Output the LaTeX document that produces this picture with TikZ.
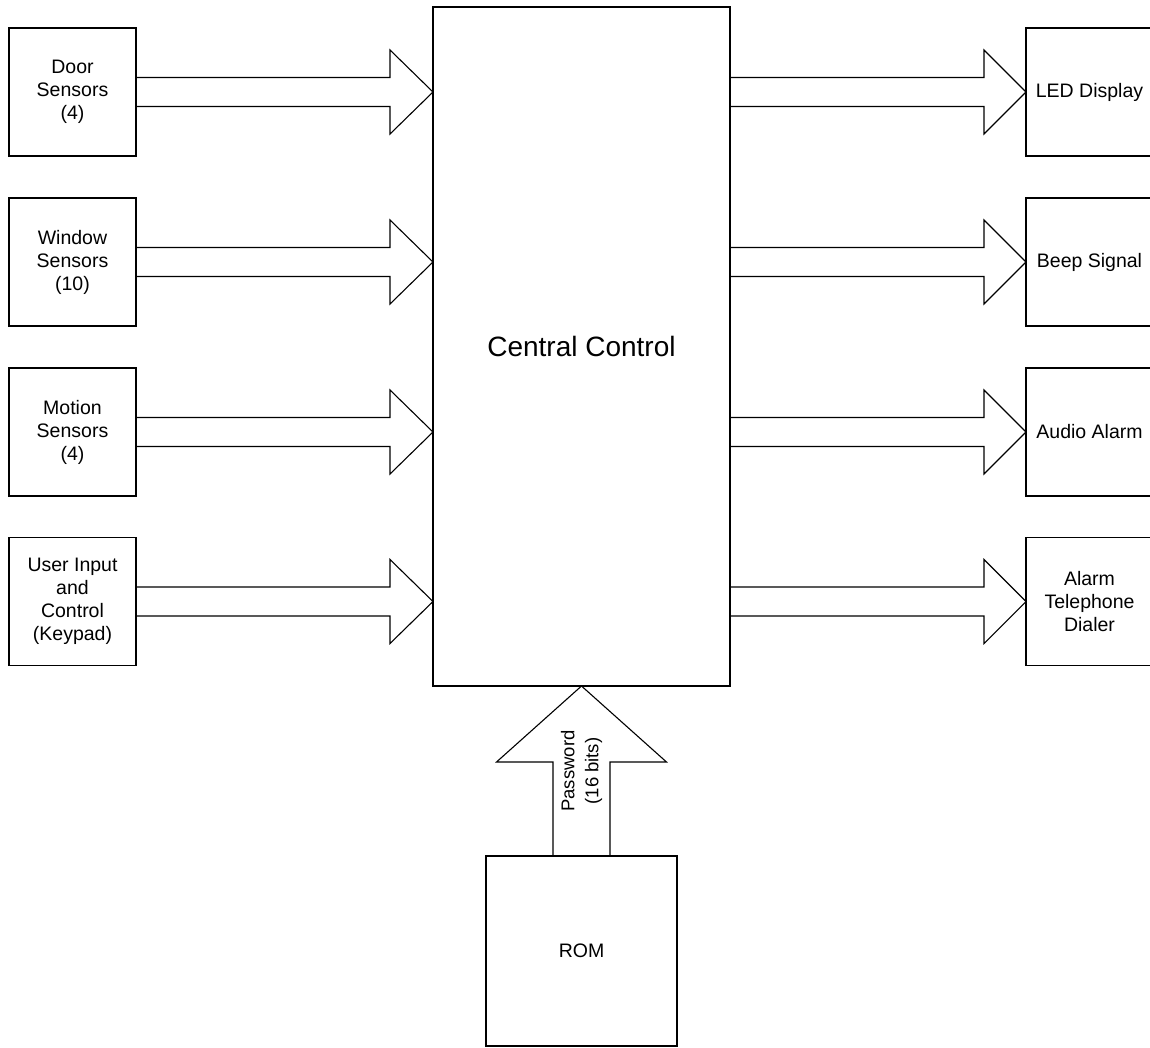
\documentclass[tikz,border=0pt]{standalone}
\usepackage{fontspec}
\setmainfont{Liberation Sans}
\usetikzlibrary{calc}

\tikzset{
  unit/.style={draw=black, line width=1.1pt, inner sep=0pt, outer sep=0pt,
    minimum width=127pt, minimum height=128pt, align=center,
    font=\fontsize{19.5}{23}\selectfont},
  core/.style={draw=black, line width=1.1pt, inner sep=0pt, outer sep=0pt,
    minimum width=297pt, minimum height=679pt,
    font=\fontsize{28}{32}\selectfont},
  store/.style={unit, minimum width=191pt, minimum height=190pt},
  bus/.style={draw=black, line width=1.1pt, line join=miter},
  buslabel/.style={align=center, rotate=90, inner sep=0pt,
    font=\fontsize{18.5}{24}\selectfont}
}

\begin{document}
\begin{tikzpicture}[x=1pt, y=-1pt]
  \clip (0,0) rectangle (1150,1047);
  \fill[white] (0,0) rectangle (1150,1047);

  % central block
  \node[core] (cc) at (581.5,346.5) {Central Control};

  % inputs
  \node[unit] (door)   at (72.5,92)    {Door\\Sensors\\(4)};
  \node[unit] (window) at (72.5,262)   {Window\\Sensors\\(10)};
  \node[unit] (motion) at (72.5,432)   {Motion\\Sensors\\(4)};
  \node[unit] (user)   at (72.5,601.5) {User Input\\and\\Control\\(Keypad)};

  % outputs
  \node[unit] (led)    at (1089.5,92)    {LED Display};
  \node[unit] (beep)   at (1089.5,262)   {Beep Signal};
  \node[unit] (audio)  at (1089.5,432)   {Audio Alarm};
  \node[unit] (dialer) at (1089.5,601.5) {Alarm\\Telephone\\Dialer};

  % memory
  \node[store] (rom) at (581.5,951) {ROM};

  % wide buses into the central block
  \foreach \src in {door,window,motion,user}{
    \draw[bus]
      ($(\src.east)+(0,-14.5)$) -- ($(cc.west |- \src.east)+(-43,-14.5)$)
      -- ++(0,-27.5) -- (cc.west |- \src.east) -- ++(-43,42)
      -- ++(0,-27.5) -- ($(\src.east)+(0,14.5)$);
  }

  % wide buses out of the central block
  \foreach \dst in {led,beep,audio,dialer}{
    \draw[bus]
      ($(cc.east |- \dst.west)+(0,-14.5)$) -- ($(\dst.west)+(-42,-14.5)$)
      -- ++(0,-27.5) -- (\dst.west) -- ++(-42,42)
      -- ++(0,-27.5) -- ($(cc.east |- \dst.west)+(0,14.5)$);
  }

  % password bus from ROM
  \draw[bus]
    ($(rom.north)+(-28.5,0)$) -- ($(cc.south)+(-28.5,76)$)
    -- ++(-56.5,0) -- (cc.south) -- ++(85,76)
    -- ++(-56.5,0) -- ($(rom.north)+(28.5,0)$);
  \node[buslabel] (pw) at ($(rom.north)!0.5!(cc.south)$) {Password\\(16 bits)};
\end{tikzpicture}
\end{document}
